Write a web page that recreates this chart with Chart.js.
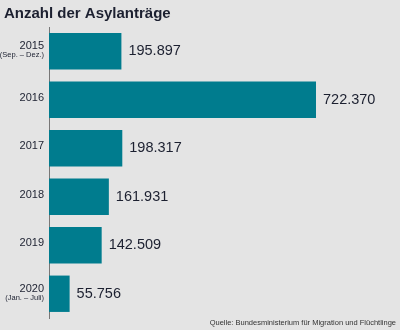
<!DOCTYPE html>
<html>
<head>
<meta charset="utf-8">
<script src="https://cdn.jsdelivr.net/npm/chart.js@4.4.1/dist/chart.umd.min.js"></script>
<style>
  html, body { margin: 0; padding: 0; background: #e4e4e4; }
  #wrap { width: 400px; height: 330px; }
</style>
</head>
<body>
<div id="wrap"><canvas id="asyl"></canvas></div>
<script>
// Asylanträge pro Jahr
const jahre = ["2015", "2016", "2017", "2018", "2019", "2020"];
const zusatz = ["(Sep. – Dez.)", "", "", "", "", "(Jan. – Juli)"];
const antraege = [195897, 722370, 198317, 161931, 142509, 55756];

const titel = "Anzahl der Asylanträge";
const quelle = "Quelle: Bundesministerium für Migration und Flüchtlinge";

const FONT = "'Liberation Sans', Arial, Helvetica, sans-serif";
const TEXT = "#1c2030";

function zahl(v) {
  return v.toString().replace(/\B(?=(\d{3})+(?!\d))/g, ".");
}

// Titel, Jahresbeschriftung, Werte und Quelle selbst zeichnen
const beschriftung = {
  id: "beschriftung",
  afterDatasetsDraw(chart) {
    const ctx = chart.ctx;
    const yScale = chart.scales.y;
    const meta = chart.getDatasetMeta(0);
    ctx.save();
    ctx.fillStyle = TEXT;

    ctx.font = "bold 15px " + FONT;
    ctx.textAlign = "left";
    ctx.textBaseline = "alphabetic";
    ctx.fillText(titel, 4, 18);

    ctx.textBaseline = "middle";
    jahre.forEach((j, i) => {
      const y = yScale.getPixelForValue(i);
      ctx.textAlign = "right";
      if (zusatz[i]) {
        ctx.font = "11px " + FONT;
        ctx.fillText(j, 44, y - 5);
        ctx.font = "7.5px " + FONT;
        ctx.fillText(zusatz[i], 44, y + 4);
      } else {
        ctx.font = "11px " + FONT;
        ctx.fillText(j, 44, y - 2);
      }
      const bar = meta.data[i];
      ctx.textAlign = "left";
      ctx.font = "14.5px " + FONT;
      ctx.fillText(zahl(antraege[i]), bar.x + 7, bar.y);
    });

    ctx.font = "7.5px " + FONT;
    ctx.textAlign = "right";
    ctx.fillStyle = "#333";
    ctx.fillText(quelle, 396, 323);
    ctx.restore();
  }
};

new Chart(document.getElementById("asyl"), {
  type: "bar",
  data: {
    labels: jahre,
    datasets: [{
      data: antraege,
      backgroundColor: "#007c8e",
      barPercentage: 0.75,
      categoryPercentage: 1
    }]
  },
  options: {
    indexAxis: "y",
    responsive: true,
    maintainAspectRatio: false,
    animation: false,
    layout: { padding: { top: 27, bottom: 12, left: 0, right: 8 } },
    plugins: {
      legend: { display: false },
      tooltip: { enabled: false }
    },
    scales: {
      x: {
        min: 0,
        max: 928000,
        display: false
      },
      y: {
        grid: { display: false },
        border: { display: true, color: "#777", width: 1 },
        ticks: { display: false },
        afterFit(scale) { scale.width = 49; }
      }
    }
  },
  plugins: [beschriftung]
});
</script>
</body>
</html>
